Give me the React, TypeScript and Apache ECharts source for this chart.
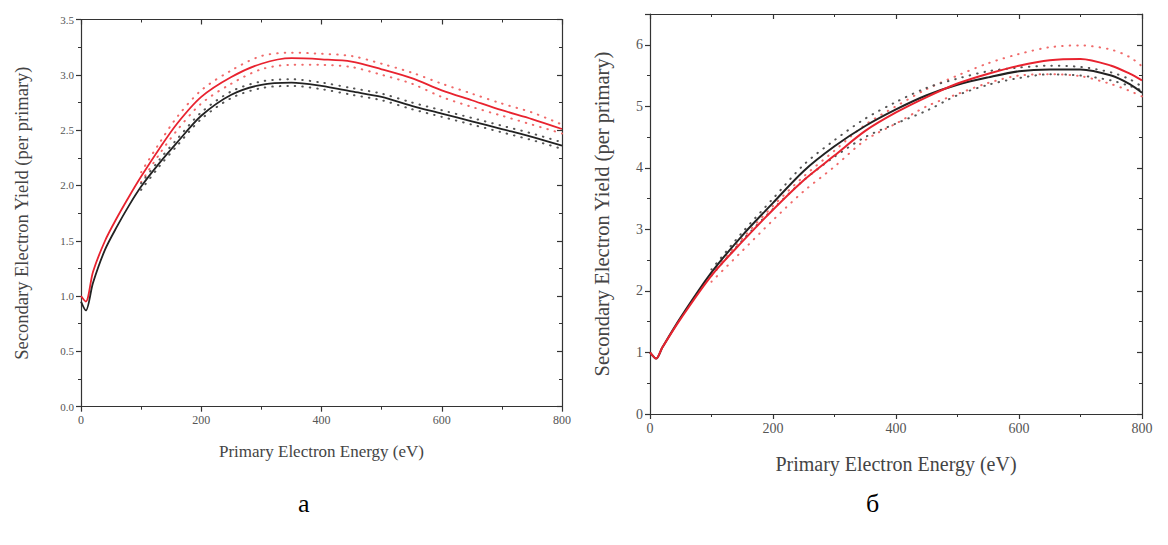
import React, { useEffect, useRef } from "react";
import * as echarts from "echarts";

// ---------- Panel "а" (left) ----------
const leftX = [0, 8, 20, 40, 60, 80, 100, 130, 160, 200, 250, 300, 350, 400, 450, 500, 550, 600, 650, 700, 750, 800];
const leftRed = [1.0, 0.95, 1.22, 1.5, 1.71, 1.9, 2.08, 2.33, 2.56, 2.8, 2.98, 3.1, 3.15, 3.14, 3.12, 3.05, 2.97, 2.86, 2.77, 2.68, 2.6, 2.51];
const leftBlack = [0.95, 0.87, 1.12, 1.42, 1.63, 1.82, 1.99, 2.2, 2.39, 2.63, 2.82, 2.91, 2.93, 2.9, 2.85, 2.8, 2.72, 2.65, 2.58, 2.51, 2.44, 2.36];

const leftBandX = [100, 130, 160, 200, 250, 300, 350, 400, 450, 500, 550, 600, 650, 700, 750, 800];
const leftRedUp = [2.12, 2.38, 2.62, 2.86, 3.04, 3.17, 3.2, 3.19, 3.17, 3.1, 3.02, 2.92, 2.83, 2.74, 2.66, 2.55];
const leftRedLo = [2.03, 2.28, 2.5, 2.74, 2.92, 3.05, 3.09, 3.09, 3.07, 3.0, 2.92, 2.8, 2.71, 2.63, 2.55, 2.47];
const leftBlackUp = [2.02, 2.23, 2.42, 2.66, 2.85, 2.94, 2.96, 2.93, 2.88, 2.83, 2.75, 2.68, 2.61, 2.54, 2.47, 2.39];
const leftBlackLo = [1.96, 2.17, 2.36, 2.6, 2.79, 2.88, 2.9, 2.87, 2.82, 2.77, 2.69, 2.62, 2.55, 2.48, 2.41, 2.33];

const leftYTicks = { min: 0, max: 3.5, interval: 0.5 };

// ---------- Panel "б" (right) ----------
const rightX = [0, 10, 20, 50, 100, 150, 200, 250, 300, 350, 400, 450, 500, 550, 600, 650, 700, 750, 780, 800];
const rightRed = [1.0, 0.9, 1.08, 1.55, 2.25, 2.8, 3.32, 3.8, 4.2, 4.6, 4.9, 5.15, 5.37, 5.53, 5.66, 5.75, 5.77, 5.66, 5.53, 5.42];
const rightBlack = [1.0, 0.9, 1.08, 1.57, 2.3, 2.9, 3.43, 3.95, 4.35, 4.68, 4.95, 5.18, 5.35, 5.47, 5.57, 5.6, 5.6, 5.5, 5.36, 5.22];

const rightBandX = [100, 150, 200, 250, 300, 350, 400, 450, 500, 550, 600, 650, 700, 750, 780, 800];
const rightRedUp = [2.3, 2.85, 3.38, 3.86, 4.28, 4.7, 5.0, 5.28, 5.5, 5.7, 5.85, 5.96, 5.99, 5.92, 5.8, 5.65];
const rightRedLo = [2.15, 2.65, 3.15, 3.62, 4.02, 4.45, 4.72, 5.0, 5.2, 5.38, 5.5, 5.52, 5.49, 5.36, 5.25, 5.16];
const rightBlackUp = [2.35, 2.95, 3.5, 4.05, 4.45, 4.8, 5.07, 5.3, 5.45, 5.57, 5.63, 5.66, 5.64, 5.55, 5.44, 5.32];
const rightBlackLo = [2.25, 2.82, 3.33, 3.8, 4.18, 4.5, 4.72, 4.93, 5.18, 5.35, 5.46, 5.52, 5.5, 5.42, 5.33, 5.26];

const rightYTicks = { min: 0, max: 6.5, interval: 1 };

const xTicks = { min: 0, max: 800, interval: 200 };

const xTitle = "Primary Electron Energy (eV)";
const yTitle = "Secondary Electron Yield (per primary)";
const panelLabels = ["а", "б"];

const FONT = "Liberation Serif";
const AXIS = "#333";

const pairs = (xs: number[], ys: number[]) => xs.map((x, i) => [x, ys[i]]);

function axisBase(gridIndex: number, pos: string, showLabel: boolean, inside: boolean, fontSize: number, minorSplit: number) {
  return {
    type: "value",
    gridIndex,
    position: pos,
    axisLine: { show: true, onZero: false, lineStyle: { color: AXIS, width: 1.2 } },
    axisTick: { show: true, inside, length: 5, lineStyle: { color: AXIS, width: 1.2 } },
    minorTick: { show: true, splitNumber: minorSplit, length: 3, lineStyle: { color: AXIS, width: 1 } },
    splitLine: { show: false },
    axisLabel: {
      show: showLabel,
      fontFamily: FONT,
      fontSize,
      color: "#555",
      margin: 7,
    },
  };
}

export default function App() {
  const ref = useRef<HTMLDivElement>(null);
  useEffect(() => {
    if (!ref.current) return;
    const chart = echarts.init(ref.current, null, { renderer: "svg" });

    const line = (name: string, xi: number, data: number[][], color: string, width: number, dotted: boolean) => ({
      name,
      type: "line",
      xAxisIndex: xi,
      yAxisIndex: xi,
      data,
      showSymbol: false,
      smooth: 0.3,
      lineStyle: dotted
        ? { color, width: 2, type: [0.5, 7], cap: "round" }
        : { color, width },
      z: dotted ? 2 : 3,
    });

    const leftBottom: any = axisBase(0, "bottom", true, false, 12, 2);
    Object.assign(leftBottom, xTicks, {
      name: xTitle,
      nameLocation: "middle",
      nameGap: 36,
      nameTextStyle: { fontFamily: FONT, fontSize: 17, color: "#444" },
    });
    leftBottom.axisLabel.formatter = (v: number) => String(v);
    const leftTop: any = axisBase(0, "top", false, true, 12, 2);
    Object.assign(leftTop, xTicks);

    const rightBottom: any = axisBase(1, "bottom", true, false, 14, 2);
    Object.assign(rightBottom, xTicks, {
      name: xTitle,
      nameLocation: "middle",
      nameGap: 40,
      nameTextStyle: { fontFamily: FONT, fontSize: 20, color: "#444" },
    });
    const rightTop: any = axisBase(1, "top", false, true, 14, 2);
    Object.assign(rightTop, xTicks);

    const leftLeft: any = axisBase(0, "left", true, false, 11, 2);
    Object.assign(leftLeft, leftYTicks, {
      name: yTitle,
      nameLocation: "middle",
      nameGap: 50,
      nameTextStyle: { fontFamily: FONT, fontSize: 18.5, color: "#444" },
    });
    leftLeft.axisLabel.formatter = (v: number) => v.toFixed(1);
    const leftRight: any = axisBase(0, "right", false, true, 11, 2);
    Object.assign(leftRight, leftYTicks);

    const rightLeft: any = axisBase(1, "left", true, false, 14, 2);
    Object.assign(rightLeft, rightYTicks, {
      name: yTitle,
      nameLocation: "middle",
      nameGap: 38,
      nameTextStyle: { fontFamily: FONT, fontSize: 20.5, color: "#444" },
    });
    rightLeft.axisLabel.formatter = (v: number) => String(v);
    rightLeft.axisLabel.showMaxLabel = false;
    const rightRight: any = axisBase(1, "right", false, true, 14, 2);
    Object.assign(rightRight, rightYTicks);

    chart.setOption({
      animation: false,
      backgroundColor: "#ffffff",
      grid: [
        { left: 81, top: 19.5, width: 481, height: 387.2 },
        { left: 650, top: 14, width: 492, height: 400 },
      ],
      xAxis: [leftBottom, rightBottom, leftTop, rightTop],
      yAxis: [leftLeft, rightLeft, leftRight, rightRight],
      series: [
        line("a-red-up", 0, pairs(leftBandX, leftRedUp), "#f06a6a", 1, true),
        line("a-red-lo", 0, pairs(leftBandX, leftRedLo), "#f06a6a", 1, true),
        line("a-black-up", 0, pairs(leftBandX, leftBlackUp), "#555", 1, true),
        line("a-black-lo", 0, pairs(leftBandX, leftBlackLo), "#555", 1, true),
        line("a-red", 0, pairs(leftX, leftRed), "#e8232f", 1.8, false),
        line("a-black", 0, pairs(leftX, leftBlack), "#222", 1.8, false),
        line("b-red-up", 1, pairs(rightBandX, rightRedUp), "#f06a6a", 1, true),
        line("b-red-lo", 1, pairs(rightBandX, rightRedLo), "#f06a6a", 1, true),
        line("b-black-up", 1, pairs(rightBandX, rightBlackUp), "#555", 1, true),
        line("b-black-lo", 1, pairs(rightBandX, rightBlackLo), "#555", 1, true),
        line("b-black", 1, pairs(rightX, rightBlack), "#222", 2, false),
        line("b-red", 1, pairs(rightX, rightRed), "#e8232f", 2, false),
      ],
      graphic: [
        {
          type: "text",
          left: 298,
          top: 490,
          style: { text: panelLabels[0], fontFamily: FONT, fontSize: 26, fill: "#000" },
        },
        {
          type: "text",
          left: 866,
          top: 490,
          style: { text: panelLabels[1], fontFamily: FONT, fontSize: 26, fill: "#000" },
        },
      ],
    });
    return () => chart.dispose();
  }, []);
  return (
    <div
      ref={ref}
      style={{ position: "absolute", left: 0, top: 0, width: 1168, height: 545, background: "#fff" }}
    />
  );
}
